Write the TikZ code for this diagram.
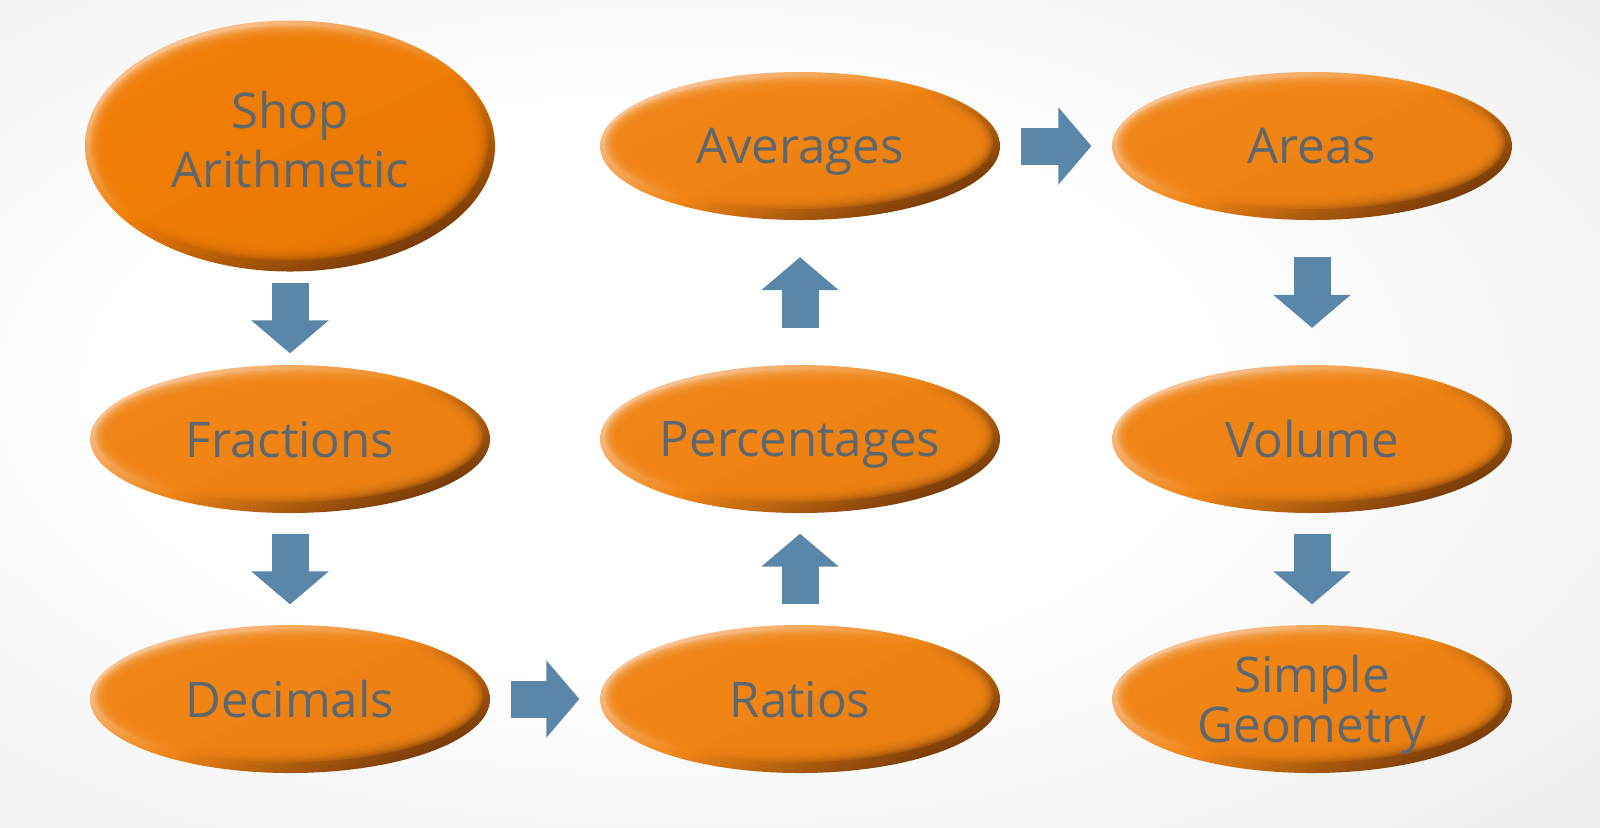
\documentclass[tikz,border=0pt]{standalone}
\usepackage{fontspec}
\setmainfont{Open Sans}
\usetikzlibrary{shapes.geometric,arrows.meta,calc}

\definecolor{rimlight}{HTML}{F9C799}
\definecolor{rimdark}{HTML}{733807}
\definecolor{ovalorange}{HTML}{F08414}
\definecolor{shoporange}{HTML}{EF7D04}
\definecolor{arrowblue}{HTML}{5A87A9}
\definecolor{txtgray}{HTML}{5F676E}

\pgfdeclareradialshading{backglow}{\pgfpoint{-6bp}{2bp}}{color(0bp)=(white); color(16bp)=(white); color(50bp)=(black!10); color(75bp)=(black!12)}

\tikzset{
  oval/.style={ellipse, minimum width=4cm, minimum height=1.48cm, inner sep=0pt,
    align=center, text=txtgray, text depth=0pt, font=\fontsize{14}{16.8}\selectfont,
    top color=rimlight, bottom color=rimdark, middle color=#1, shading angle=25,
    path picture={
      \foreach \k in {0,...,7}
        \fill[#1, opacity=0.3] let \p1=($(path picture bounding box.north east)-(path picture bounding box.center)$) in
          ($(path picture bounding box.center)+(-0.01,0.03)$) ellipse [x radius={\x1-0.06cm-\k*0.02cm}, y radius={\y1-0.08cm-\k*0.02cm}];
    }},
  oval/.default=ovalorange,
  flow/.style={draw=arrowblue, line width=0.37cm,
    -{Triangle[width=0.77cm, length=0.33cm, line width=0.03cm, fill=arrowblue]}},
  trim/.style={shorten <=#1cm, shorten >=#1cm}
}

\begin{document}
\begin{tikzpicture}

% background
\useasboundingbox (0,0) rectangle (16,-8.27);
\shade[shading=backglow] (0,0) rectangle (16,-8.27);

% left column
\node[oval=shoporange, minimum width=4.1cm, minimum height=2.51cm, text depth=4pt] (shop) at (2.90,-1.46) {Shop\\Arithmetic};
\node[oval] (frac) at (2.90,-4.39) {Fractions};
\node[oval] (dec) at (2.90,-6.99) {Decimals};

% middle column
\node[oval] (avg) at (8.00,-1.46) {Averages};
\node[oval] (perc) at (8.00,-4.39) {Percentages};
\node[oval] (ratio) at (8.00,-6.99) {Ratios};

% right column
\node[oval] (area) at (13.12,-1.46) {Areas};
\node[oval] (vol) at (13.12,-4.39) {Volume};
\node[oval, font=\fontsize{14}{14.2}\selectfont] (geo) at (13.12,-6.99) {Simple\\Geometry};

\foreach \a/\b/\t in {shop/frac/0.11, frac/dec/0.2, dec/ratio/0.2, ratio/perc/0.2,
                      perc/avg/0.365, avg/area/0.2, area/vol/0.365, vol/geo/0.2} {
    \draw[flow, trim=\t] (\a) -- (\b);
}

\end{tikzpicture}
\end{document}
